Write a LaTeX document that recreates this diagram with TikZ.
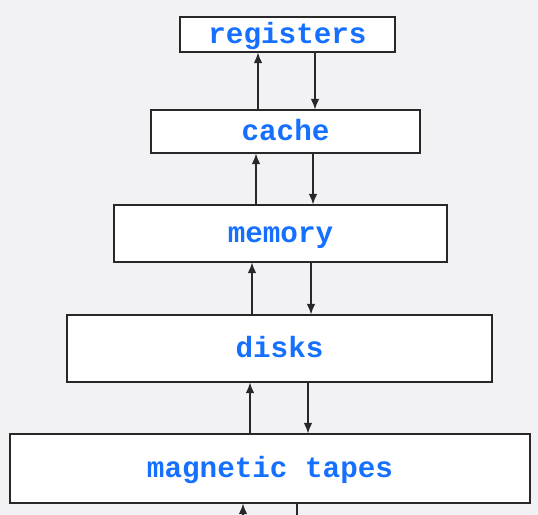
\documentclass[tikz,border=0pt]{standalone}
\usepackage{fontspec}
\setmonofont{Liberation Mono}
\usepackage{tikz}
\usetikzlibrary{positioning, calc, arrows.meta}
\definecolor{paper}{RGB}{242,242,245}
\definecolor{label}{RGB}{22,112,255}
\definecolor{edge}{RGB}{40,40,40}
\tikzset{
  level/.style={draw=edge, line width=0.9pt, fill=white, inner sep=0pt,
    font=\ttfamily\bfseries\fontsize{25}{28}\selectfont, text=label,
    text height=17pt, text depth=1pt},
  flow/.style={draw=edge, line width=1.2pt, -{Latex[length=3.2mm,width=2.6mm]}},
}

\begin{document}
\begin{tikzpicture}[x=0.03cm, y=-0.03cm]
      \fill[paper] (0,0) rectangle (538,515);
      \useasboundingbox (0,0) rectangle (538,515);
      \node[level, minimum width=6.45cm, minimum height=1.05cm] (reg) at (287.5,34.5) {registers};
      \node[level, minimum width=8.07cm, minimum height=1.29cm] (cache) at (285.5,131.5) {cache};
      \node[level, minimum width=9.99cm, minimum height=1.71cm] (mem) at (280.5,233.5) {memory};
      \node[level, minimum width=12.75cm, minimum height=2.01cm] (disk) at (279.5,348.5) {disks};
      \node[level, minimum width=15.6cm, minimum height=2.07cm] (tape) at (270,468.5) {magnetic tapes};
      \coordinate (belowL) at (243,515);
      \coordinate (belowR) at (297,515);
      \draw[flow] (cache.north -| 258,0) -- (reg.south -| 258,0);
      \draw[flow] (reg.south -| 315,0) -- (cache.north -| 315,0);
      \draw[flow] (mem.north -| 256,0) -- (cache.south -| 256,0);
      \draw[flow] (cache.south -| 313,0) -- (mem.north -| 313,0);
      \draw[flow] (disk.north -| 252,0) -- (mem.south -| 252,0);
      \draw[flow] (mem.south -| 311,0) -- (disk.north -| 311,0);
      \draw[flow] (tape.north -| 250,0) -- (disk.south -| 250,0);
      \draw[flow] (disk.south -| 308,0) -- (tape.north -| 308,0);
      \draw[flow] (belowL) -- (tape.south -| belowL);
      \draw[draw=edge, line width=1.2pt] (tape.south -| belowR) -- (belowR);
    \end{tikzpicture}
\end{document}
